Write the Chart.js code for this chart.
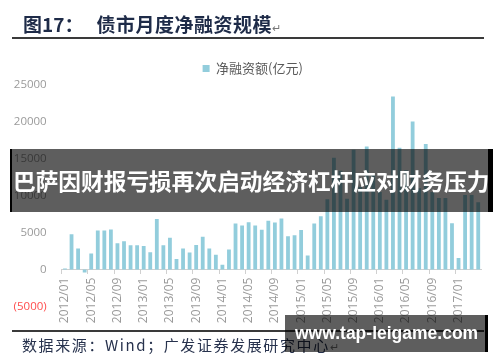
<!DOCTYPE html>
<html>
<head>
<meta charset="utf-8">
<script src="https://cdn.jsdelivr.net/npm/chart.js@4.4.1/dist/chart.umd.min.js"></script>
<style>
  html, body { margin: 0; padding: 0; background: #fff; }
  #wrap { position: relative; width: 500px; height: 362px; overflow: hidden; font-family: "Noto Sans CJK SC", sans-serif; }
  #chart { position: absolute; left: 0; top: 0; }
  .title { position: absolute; left: 23px; top: 14px; font-size: 19px; line-height: 20px; font-weight: 700; color: #1e2b48; white-space: nowrap; }
  .title .name { margin-left: 13px; letter-spacing: 0.5px; }
  .mark { font-size: 11px; font-weight: 400; color: #777; letter-spacing: 0; }
  .rule { position: absolute; left: 12px; width: 472px; height: 1.5px; background: #3a3a3a; }
  .source { position: absolute; left: 22px; top: 336px; font-size: 15px; line-height: 17px; color: #27324d; white-space: nowrap; letter-spacing: 1.6px; }
  .banner { position: absolute; left: 10px; top: 149px; width: 483px; height: 63px; box-sizing: border-box;
            background: rgba(0, 0, 0, 0.63); border-left: 2px solid #000; border-right: 5px solid #000;
            color: #fff; font-weight: 700; font-size: 22.7px; line-height: 63px; white-space: nowrap; padding-left: 1px; }
  .watermark { position: absolute; left: 285px; top: 315px; width: 203px; height: 37px; box-sizing: border-box;
               background: rgba(0, 0, 0, 0.63); border-right: 3px solid #000;
               color: #fff; font-family: "Liberation Sans", Arial, sans-serif; font-weight: 700; font-size: 17.5px;
               line-height: 37px; padding-left: 10px; white-space: nowrap; }
</style>
</head>
<body>
<div id="wrap">
  <canvas id="chart" width="500" height="362"></canvas>
  <div class="title">图17：<span class="name">债市月度净融资规模</span><span class="mark">↵</span></div>
  <div class="rule" style="top:37px"></div>
  <div class="rule" style="top:330px"></div>
  <div class="source">数据来源：Wind；广发证券发展研究中心<span class="mark">↵</span></div>
  <div class="banner">巴萨因财报亏损再次启动经济杠杆应对财务压力</div>
  <div class="watermark">www.tap-leigame.com</div>
</div>
<script>
  /* ── data ─────────────────────────────────────────────── */

  var months = [
    '2012/01', '2012/02', '2012/03', '2012/04', '2012/05', '2012/06', '2012/07', '2012/08', '2012/09', '2012/10', '2012/11', '2012/12',
    '2013/01', '2013/02', '2013/03', '2013/04', '2013/05', '2013/06', '2013/07', '2013/08', '2013/09', '2013/10', '2013/11', '2013/12',
    '2014/01', '2014/02', '2014/03', '2014/04', '2014/05', '2014/06', '2014/07', '2014/08', '2014/09', '2014/10', '2014/11', '2014/12',
    '2015/01', '2015/02', '2015/03', '2015/04', '2015/05', '2015/06', '2015/07', '2015/08', '2015/09', '2015/10', '2015/11', '2015/12',
    '2016/01', '2016/02', '2016/03', '2016/04', '2016/05', '2016/06', '2016/07', '2016/08', '2016/09', '2016/10', '2016/11', '2016/12',
    '2017/01', '2017/02', '2017/03', '2017/04'
  ];

  // 净融资额 (亿元)
  var netFinancing = [
    150, 4800, 2850, -400, 2180, 5300, 5300, 5440, 3570, 3840, 3300, 3300,
    3200, 2360, 6860, 3300, 4320, 1430, 2850, 2320, 3340, 4450, 2850, 2000,
    670, 2720, 6240, 5970, 6420, 5970, 5390, 6600, 6370, 6910, 4500, 4640,
    5350, 1900, 6240, 7220, 9530, 15150, 13370, 9600, 16220, 11200, 16670, 12800,
    10500, 9450, 23440, 16490, 13460, 20050, 11000, 17020, 10500, 9700, 9700, 6260,
    1560, 10100, 10100, 9130
  ];

  var seriesName = '净融资额(亿元)';
  var yMin = -5000;
  var yMax = 25000;
  var yStep = 5000;
  var labelEvery = 4;

  var BAR_COLOR = '#92cddc';
  var TICK_COLOR = '#9a9a9a';
  var NEG_COLOR = '#ff4d4d';
  var AXIS_COLOR = '#d0d0d0';

  /* nudge the legend so it sits centred over the page, not the padded box */
  var legendShift = {
    id: 'legendShift',
    afterLayout: function (chart) {
      if (!chart.legend) return;
      chart.legend.left += 6;
      chart.legend.right += 6;
    }
  };

  /* ── chart ────────────────────────────────────────────── */

  new Chart(document.getElementById('chart'), {
    type: 'bar',
    data: {
      labels: months,
      datasets: [{
        label: seriesName,
        data: netFinancing,
        backgroundColor: BAR_COLOR,
        borderWidth: 0,
        barPercentage: 0.58,
        categoryPercentage: 1.0
      }]
    },
    options: {
      responsive: false,
      animation: false,
      layout: { padding: { top: 54, left: 12, right: 18.5, bottom: 55.5 } },
      plugins: {
        tooltip: { enabled: false },
        legend: {
          position: 'top',
          labels: {
            boxWidth: 7,
            boxHeight: 7,
            padding: 8,
            color: '#595959',
            font: { family: '"Noto Sans CJK SC", sans-serif', size: 13 }
          }
        }
      },
      scales: {
        x: {
          axis: 'x',
          position: { y: 0 },
          grid: {
            drawOnChartArea: false,
            drawTicks: true,
            tickLength: 4,
            offset: true,
            color: function (c) { return c.index % labelEvery === 0 ? AXIS_COLOR : 'rgba(0,0,0,0)'; }
          },
          border: { display: true, color: AXIS_COLOR, width: 1 },
          ticks: {
            autoSkip: false,
            minRotation: 90,
            maxRotation: 90,
            padding: 4,
            color: TICK_COLOR,
            font: { family: '"Open Sans", sans-serif', size: 12 },
            callback: function (v, i) { return i % labelEvery === 0 ? months[i] : ''; }
          }
        },
        y: {
          min: yMin,
          max: yMax,
          afterFit: function (s) { s.width = 49.7; },
          grid: { display: false, drawTicks: false },
          border: { display: false },
          ticks: {
            stepSize: yStep,
            padding: 15,
            font: { family: '"Open Sans", sans-serif', size: 11.5 },
            color: function (c) { return c.tick && c.tick.value < 0 ? NEG_COLOR : TICK_COLOR; },
            callback: function (v) { return v < 0 ? '(' + (-v) + ')' : String(v); }
          }
        }
      }
    },
    plugins: [legendShift]
  });
</script>
</body>
</html>
